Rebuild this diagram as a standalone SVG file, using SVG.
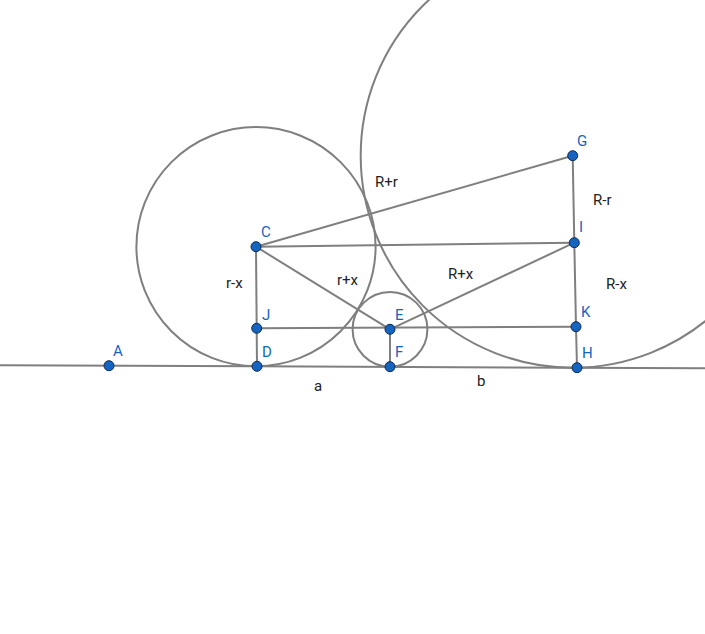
<svg xmlns="http://www.w3.org/2000/svg" width="705" height="634" viewBox="0 0 705 634">
<style>
.ln{stroke:#7f7f7f;stroke-width:2;fill:none}
.pt{fill:#1565c0;stroke:#0d2a52;stroke-width:1}
.pl{font-family:Roboto,"Liberation Sans",sans-serif;font-size:15px;fill:#1565c0}
.tl{font-family:Roboto,"Liberation Sans",sans-serif;font-size:15px;fill:#222}
</style>
<rect width="705" height="634" fill="#fff"/>
<g id="connectors">
<line class="ln" x1="0" y1="365.2" x2="705" y2="368.3"/>
<circle class="ln" cx="256" cy="246.7" r="119.6"/>
<circle class="ln" cx="390" cy="329.3" r="37.4"/>
<circle class="ln" cx="572.7" cy="155.7" r="212"/>
<line class="ln" x1="256" y1="246.7" x2="572.7" y2="155.7"/>
<line class="ln" x1="256" y1="246.7" x2="574.3" y2="242.7"/>
<line class="ln" x1="256" y1="246.7" x2="390" y2="329.3"/>
<line class="ln" x1="256" y1="246.7" x2="257" y2="366.3"/>
<line class="ln" x1="256.7" y1="328.3" x2="576" y2="326.7"/>
<line class="ln" x1="390" y1="329.3" x2="574.3" y2="242.7"/>
<line class="ln" x1="390" y1="329.3" x2="390" y2="366.7"/>
<polyline class="ln" points="572.7,155.7 574.3,242.7 576,326.7 577,367.7"/>
</g>
<g id="labels">
<text class="tl" x="226" y="288">r-x</text>
<text class="tl" x="337" y="285">r+x</text>
<text class="tl" x="375" y="187">R+r</text>
<text class="tl" x="448" y="279">R+x</text>
<text class="tl" x="593" y="205">R-r</text>
<text class="tl" x="606" y="289">R-x</text>
<text class="tl" x="314" y="391">a</text>
<text class="tl" x="477" y="386">b</text>
</g>
<g id="A"><circle class="pt" cx="109" cy="365.7" r="5"/><text class="pl" x="113" y="356">A</text></g>
<g id="C"><circle class="pt" cx="256" cy="246.7" r="5"/><text class="pl" x="261" y="237">C</text></g>
<g id="D"><circle class="pt" cx="257" cy="366.3" r="5"/><text class="pl" x="262" y="357">D</text></g>
<g id="J"><circle class="pt" cx="256.7" cy="328.3" r="5"/><text class="pl" x="262" y="320">J</text></g>
<g id="E"><circle class="pt" cx="390" cy="329.3" r="5"/><text class="pl" x="395" y="320">E</text></g>
<g id="F"><circle class="pt" cx="390" cy="366.7" r="5"/><text class="pl" x="395" y="357">F</text></g>
<g id="G"><circle class="pt" cx="572.7" cy="155.7" r="5"/><text class="pl" x="577" y="146">G</text></g>
<g id="I"><circle class="pt" cx="574.3" cy="242.7" r="5"/><text class="pl" x="579" y="232">I</text></g>
<g id="K"><circle class="pt" cx="576" cy="326.7" r="5"/><text class="pl" x="581" y="317">K</text></g>
<g id="H"><circle class="pt" cx="577" cy="367.7" r="5"/><text class="pl" x="582" y="358">H</text></g>
</svg>
